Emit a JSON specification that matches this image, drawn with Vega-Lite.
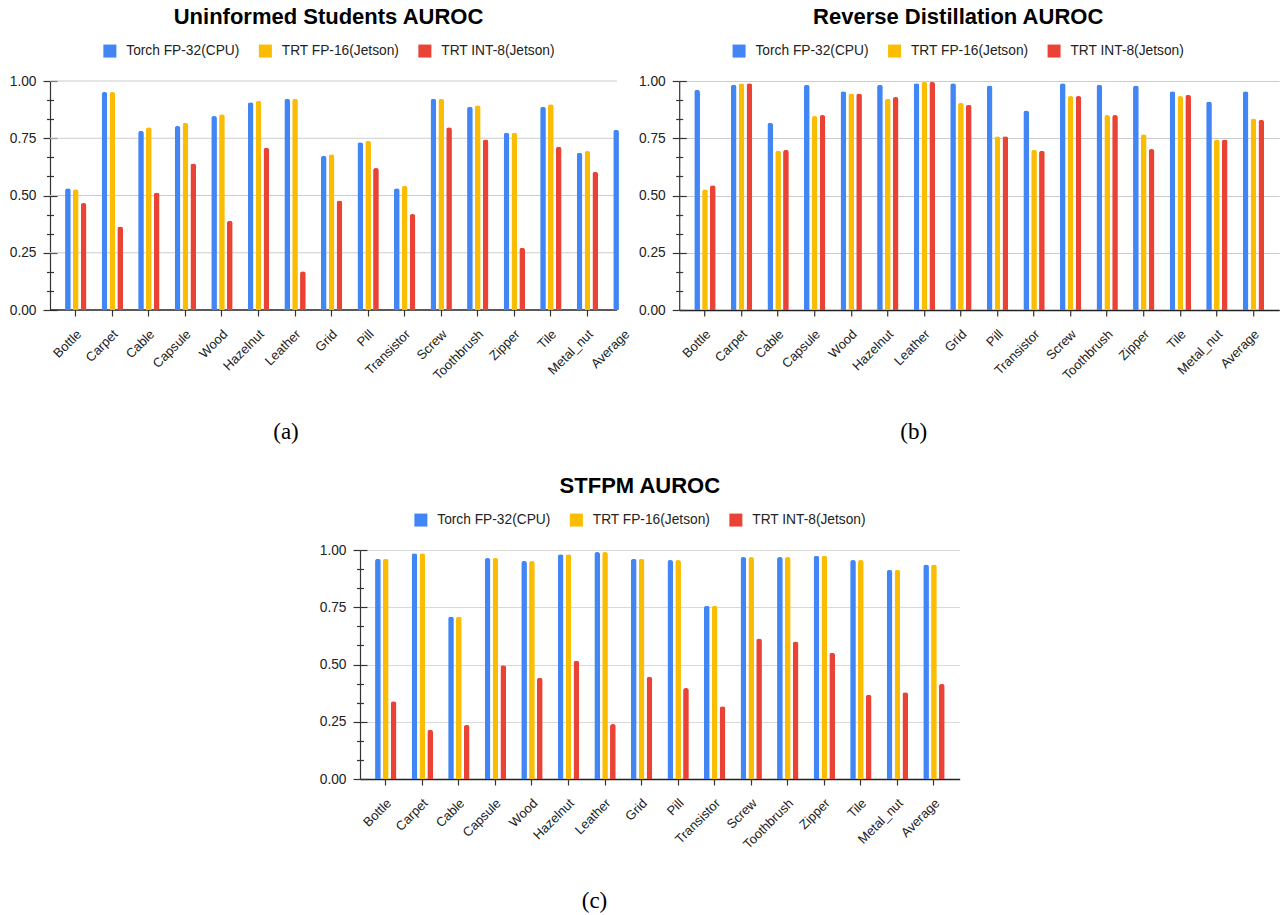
{
  "$schema": "https://vega.github.io/schema/vega-lite/v6.json",
  "background": "white",
  "padding": {"left": 9, "top": 6, "right": 0, "bottom": 0},
  "datasets": {
    "us": [
      {"c": "Bottle", "s": "Torch FP-32(CPU)", "v": 0.532}, {"c": "Bottle", "s": "TRT FP-16(Jetson)", "v": 0.527}, {"c": "Bottle", "s": "TRT INT-8(Jetson)", "v": 0.467},
      {"c": "Carpet", "s": "Torch FP-32(CPU)", "v": 0.952}, {"c": "Carpet", "s": "TRT FP-16(Jetson)", "v": 0.952}, {"c": "Carpet", "s": "TRT INT-8(Jetson)", "v": 0.365},
      {"c": "Cable", "s": "Torch FP-32(CPU)", "v": 0.782}, {"c": "Cable", "s": "TRT FP-16(Jetson)", "v": 0.798}, {"c": "Cable", "s": "TRT INT-8(Jetson)", "v": 0.513},
      {"c": "Capsule", "s": "Torch FP-32(CPU)", "v": 0.803}, {"c": "Capsule", "s": "TRT FP-16(Jetson)", "v": 0.817}, {"c": "Capsule", "s": "TRT INT-8(Jetson)", "v": 0.640},
      {"c": "Wood", "s": "Torch FP-32(CPU)", "v": 0.847}, {"c": "Wood", "s": "TRT FP-16(Jetson)", "v": 0.855}, {"c": "Wood", "s": "TRT INT-8(Jetson)", "v": 0.390},
      {"c": "Hazelnut", "s": "Torch FP-32(CPU)", "v": 0.907}, {"c": "Hazelnut", "s": "TRT FP-16(Jetson)", "v": 0.913}, {"c": "Hazelnut", "s": "TRT INT-8(Jetson)", "v": 0.709},
      {"c": "Leather", "s": "Torch FP-32(CPU)", "v": 0.923}, {"c": "Leather", "s": "TRT FP-16(Jetson)", "v": 0.923}, {"c": "Leather", "s": "TRT INT-8(Jetson)", "v": 0.169},
      {"c": "Grid", "s": "Torch FP-32(CPU)", "v": 0.674}, {"c": "Grid", "s": "TRT FP-16(Jetson)", "v": 0.680}, {"c": "Grid", "s": "TRT INT-8(Jetson)", "v": 0.478},
      {"c": "Pill", "s": "Torch FP-32(CPU)", "v": 0.733}, {"c": "Pill", "s": "TRT FP-16(Jetson)", "v": 0.739}, {"c": "Pill", "s": "TRT INT-8(Jetson)", "v": 0.620},
      {"c": "Transistor", "s": "Torch FP-32(CPU)", "v": 0.532}, {"c": "Transistor", "s": "TRT FP-16(Jetson)", "v": 0.542}, {"c": "Transistor", "s": "TRT INT-8(Jetson)", "v": 0.419},
      {"c": "Screw", "s": "Torch FP-32(CPU)", "v": 0.923}, {"c": "Screw", "s": "TRT FP-16(Jetson)", "v": 0.923}, {"c": "Screw", "s": "TRT INT-8(Jetson)", "v": 0.798},
      {"c": "Toothbrush", "s": "Torch FP-32(CPU)", "v": 0.888}, {"c": "Toothbrush", "s": "TRT FP-16(Jetson)", "v": 0.894}, {"c": "Toothbrush", "s": "TRT INT-8(Jetson)", "v": 0.744},
      {"c": "Zipper", "s": "Torch FP-32(CPU)", "v": 0.774}, {"c": "Zipper", "s": "TRT FP-16(Jetson)", "v": 0.774}, {"c": "Zipper", "s": "TRT INT-8(Jetson)", "v": 0.272},
      {"c": "Tile", "s": "Torch FP-32(CPU)", "v": 0.888}, {"c": "Tile", "s": "TRT FP-16(Jetson)", "v": 0.898}, {"c": "Tile", "s": "TRT INT-8(Jetson)", "v": 0.713},
      {"c": "Metal_nut", "s": "Torch FP-32(CPU)", "v": 0.687}, {"c": "Metal_nut", "s": "TRT FP-16(Jetson)", "v": 0.694}, {"c": "Metal_nut", "s": "TRT INT-8(Jetson)", "v": 0.603},
      {"c": "Average", "s": "Torch FP-32(CPU)", "v": 0.787}
    ],
    "rd": [
      {"c": "Bottle", "s": "Torch FP-32(CPU)", "v": 0.961}, {"c": "Bottle", "s": "TRT FP-16(Jetson)", "v": 0.527}, {"c": "Bottle", "s": "TRT INT-8(Jetson)", "v": 0.545},
      {"c": "Carpet", "s": "Torch FP-32(CPU)", "v": 0.984}, {"c": "Carpet", "s": "TRT FP-16(Jetson)", "v": 0.990}, {"c": "Carpet", "s": "TRT INT-8(Jetson)", "v": 0.990},
      {"c": "Cable", "s": "Torch FP-32(CPU)", "v": 0.817}, {"c": "Cable", "s": "TRT FP-16(Jetson)", "v": 0.695}, {"c": "Cable", "s": "TRT INT-8(Jetson)", "v": 0.699},
      {"c": "Capsule", "s": "Torch FP-32(CPU)", "v": 0.984}, {"c": "Capsule", "s": "TRT FP-16(Jetson)", "v": 0.847}, {"c": "Capsule", "s": "TRT INT-8(Jetson)", "v": 0.851},
      {"c": "Wood", "s": "Torch FP-32(CPU)", "v": 0.955}, {"c": "Wood", "s": "TRT FP-16(Jetson)", "v": 0.945}, {"c": "Wood", "s": "TRT INT-8(Jetson)", "v": 0.945},
      {"c": "Hazelnut", "s": "Torch FP-32(CPU)", "v": 0.984}, {"c": "Hazelnut", "s": "TRT FP-16(Jetson)", "v": 0.922}, {"c": "Hazelnut", "s": "TRT INT-8(Jetson)", "v": 0.930},
      {"c": "Leather", "s": "Torch FP-32(CPU)", "v": 0.990}, {"c": "Leather", "s": "TRT FP-16(Jetson)", "v": 0.996}, {"c": "Leather", "s": "TRT INT-8(Jetson)", "v": 0.996},
      {"c": "Grid", "s": "Torch FP-32(CPU)", "v": 0.990}, {"c": "Grid", "s": "TRT FP-16(Jetson)", "v": 0.904}, {"c": "Grid", "s": "TRT INT-8(Jetson)", "v": 0.896},
      {"c": "Pill", "s": "Torch FP-32(CPU)", "v": 0.980}, {"c": "Pill", "s": "TRT FP-16(Jetson)", "v": 0.759}, {"c": "Pill", "s": "TRT INT-8(Jetson)", "v": 0.759},
      {"c": "Transistor", "s": "Torch FP-32(CPU)", "v": 0.871}, {"c": "Transistor", "s": "TRT FP-16(Jetson)", "v": 0.700}, {"c": "Transistor", "s": "TRT INT-8(Jetson)", "v": 0.695},
      {"c": "Screw", "s": "Torch FP-32(CPU)", "v": 0.990}, {"c": "Screw", "s": "TRT FP-16(Jetson)", "v": 0.934}, {"c": "Screw", "s": "TRT INT-8(Jetson)", "v": 0.934},
      {"c": "Toothbrush", "s": "Torch FP-32(CPU)", "v": 0.984}, {"c": "Toothbrush", "s": "TRT FP-16(Jetson)", "v": 0.851}, {"c": "Toothbrush", "s": "TRT INT-8(Jetson)", "v": 0.851},
      {"c": "Zipper", "s": "Torch FP-32(CPU)", "v": 0.980}, {"c": "Zipper", "s": "TRT FP-16(Jetson)", "v": 0.768}, {"c": "Zipper", "s": "TRT INT-8(Jetson)", "v": 0.703},
      {"c": "Tile", "s": "Torch FP-32(CPU)", "v": 0.955}, {"c": "Tile", "s": "TRT FP-16(Jetson)", "v": 0.934}, {"c": "Tile", "s": "TRT INT-8(Jetson)", "v": 0.939},
      {"c": "Metal_nut", "s": "Torch FP-32(CPU)", "v": 0.910}, {"c": "Metal_nut", "s": "TRT FP-16(Jetson)", "v": 0.745}, {"c": "Metal_nut", "s": "TRT INT-8(Jetson)", "v": 0.745},
      {"c": "Average", "s": "Torch FP-32(CPU)", "v": 0.955}, {"c": "Average", "s": "TRT FP-16(Jetson)", "v": 0.836}, {"c": "Average", "s": "TRT INT-8(Jetson)", "v": 0.830}
    ],
    "st": [
      {"c": "Bottle", "s": "Torch FP-32(CPU)", "v": 0.962}, {"c": "Bottle", "s": "TRT FP-16(Jetson)", "v": 0.962}, {"c": "Bottle", "s": "TRT INT-8(Jetson)", "v": 0.340},
      {"c": "Carpet", "s": "Torch FP-32(CPU)", "v": 0.986}, {"c": "Carpet", "s": "TRT FP-16(Jetson)", "v": 0.986}, {"c": "Carpet", "s": "TRT INT-8(Jetson)", "v": 0.215},
      {"c": "Cable", "s": "Torch FP-32(CPU)", "v": 0.710}, {"c": "Cable", "s": "TRT FP-16(Jetson)", "v": 0.710}, {"c": "Cable", "s": "TRT INT-8(Jetson)", "v": 0.236},
      {"c": "Capsule", "s": "Torch FP-32(CPU)", "v": 0.965}, {"c": "Capsule", "s": "TRT FP-16(Jetson)", "v": 0.965}, {"c": "Capsule", "s": "TRT INT-8(Jetson)", "v": 0.497},
      {"c": "Wood", "s": "Torch FP-32(CPU)", "v": 0.952}, {"c": "Wood", "s": "TRT FP-16(Jetson)", "v": 0.952}, {"c": "Wood", "s": "TRT INT-8(Jetson)", "v": 0.442},
      {"c": "Hazelnut", "s": "Torch FP-32(CPU)", "v": 0.981}, {"c": "Hazelnut", "s": "TRT FP-16(Jetson)", "v": 0.981}, {"c": "Hazelnut", "s": "TRT INT-8(Jetson)", "v": 0.516},
      {"c": "Leather", "s": "Torch FP-32(CPU)", "v": 0.991}, {"c": "Leather", "s": "TRT FP-16(Jetson)", "v": 0.991}, {"c": "Leather", "s": "TRT INT-8(Jetson)", "v": 0.240},
      {"c": "Grid", "s": "Torch FP-32(CPU)", "v": 0.961}, {"c": "Grid", "s": "TRT FP-16(Jetson)", "v": 0.961}, {"c": "Grid", "s": "TRT INT-8(Jetson)", "v": 0.447},
      {"c": "Pill", "s": "Torch FP-32(CPU)", "v": 0.956}, {"c": "Pill", "s": "TRT FP-16(Jetson)", "v": 0.956}, {"c": "Pill", "s": "TRT INT-8(Jetson)", "v": 0.397},
      {"c": "Transistor", "s": "Torch FP-32(CPU)", "v": 0.757}, {"c": "Transistor", "s": "TRT FP-16(Jetson)", "v": 0.757}, {"c": "Transistor", "s": "TRT INT-8(Jetson)", "v": 0.318},
      {"c": "Screw", "s": "Torch FP-32(CPU)", "v": 0.969}, {"c": "Screw", "s": "TRT FP-16(Jetson)", "v": 0.969}, {"c": "Screw", "s": "TRT INT-8(Jetson)", "v": 0.614},
      {"c": "Toothbrush", "s": "Torch FP-32(CPU)", "v": 0.969}, {"c": "Toothbrush", "s": "TRT FP-16(Jetson)", "v": 0.969}, {"c": "Toothbrush", "s": "TRT INT-8(Jetson)", "v": 0.600},
      {"c": "Zipper", "s": "Torch FP-32(CPU)", "v": 0.975}, {"c": "Zipper", "s": "TRT FP-16(Jetson)", "v": 0.975}, {"c": "Zipper", "s": "TRT INT-8(Jetson)", "v": 0.551},
      {"c": "Tile", "s": "Torch FP-32(CPU)", "v": 0.956}, {"c": "Tile", "s": "TRT FP-16(Jetson)", "v": 0.956}, {"c": "Tile", "s": "TRT INT-8(Jetson)", "v": 0.368},
      {"c": "Metal_nut", "s": "Torch FP-32(CPU)", "v": 0.913}, {"c": "Metal_nut", "s": "TRT FP-16(Jetson)", "v": 0.913}, {"c": "Metal_nut", "s": "TRT INT-8(Jetson)", "v": 0.379},
      {"c": "Average", "s": "Torch FP-32(CPU)", "v": 0.937}, {"c": "Average", "s": "TRT FP-16(Jetson)", "v": 0.937}, {"c": "Average", "s": "TRT INT-8(Jetson)", "v": 0.415}
    ],
    "gridLevels": [{"g": 0}, {"g": 0.25}, {"g": 0.5}, {"g": 0.75}, {"g": 1}]
  },
  "config": {
    "view": {"stroke": null},
    "font": "Liberation Sans",
    "title": {"font": "Liberation Sans", "fontSize": 22, "fontWeight": "bold", "color": "#000000", "anchor": "middle", "frame": "group"},
    "legend": {"orient": "none", "direction": "horizontal", "symbolType": "square", "symbolSize": 169, "symbolStrokeWidth": 0, "symbolOpacity": 1, "labelFont": "Liberation Sans", "labelFontSize": 13.75, "labelColor": "#222222", "labelOffset": 9.5, "columnPadding": 18.5},
    "axisX": {
      "domain": false, "offset": -6, "tickSize": 12, "tickColor": "#333333", "tickWidth": 1.2,
      "labelAngle": -45, "labelAlign": "right", "labelBaseline": "middle", "labelFont": "Liberation Sans", "labelFontSize": 13, "labelColor": "#222222", "labelPadding": 15.7, "labelOffset": 3.5,
      "zindex": 1,
      "titleFont": "Liberation Serif", "titleFontSize": 23, "titleFontWeight": "normal", "titleColor": "#000000", "titleY": 127.5, "titleAlign": "center", "titleBaseline": "middle", "titleAngle": 0
    }
  },
  "spacing": 469,
  "bounds": "flush",
  "resolve": {"scale": {"color": "independent"}, "legend": {"color": "independent"}},
  "vconcat": [
    {
      "spacing": 62.2,
      "bounds": "flush",
      "resolve": {"scale": {"color": "independent"}, "legend": {"color": "independent"}},
      "hconcat": [
        {
          "width": 567, "height": 229,
          "title": {"text": "Uninformed Students AUROC", "dx": -5, "offset": 14.7},
          "resolve": {"axis": {"y": "independent"}},
          "layer": [
            {
              "data": {"name": "gridLevels"},
              "mark": {"type": "rule"},
              "encoding": {
                "y": {"field": "g", "type": "quantitative", "scale": {"domain": [0, 1], "nice": false},
                  "axis": {"orient": "left", "title": null, "values": [0, 0.083333, 0.166667, 0.25, 0.333333, 0.416667, 0.5, 0.583333, 0.666667, 0.75, 0.833333, 0.916667, 1],
                    "labels": false, "domain": false, "grid": false, "ticks": true, "tickColor": "#333333", "tickWidth": 1.2,
                    "tickSize": {"condition": {"test": "abs(datum.value * 4 - round(datum.value * 4)) < 0.001", "value": -7}, "value": -3.5}}},
                "color": {"condition": {"test": "datum.g == 0", "value": "#222222"}, "value": "#cccccc"},
                "strokeWidth": {"condition": {"test": "datum.g == 0", "value": 1.5}, "value": 1}
              }
            },
            {
              "data": {"name": "us"},
              "mark": {"type": "bar", "cornerRadiusEnd": 2.5},
              "encoding": {
                "x": {"field": "c", "type": "nominal", "title": "(a)",
                  "sort": ["Bottle", "Carpet", "Cable", "Capsule", "Wood", "Hazelnut", "Leather", "Grid", "Pill", "Transistor", "Screw", "Toothbrush", "Zipper", "Tile", "Metal_nut", "Average"],
                  "scale": {"domain": ["Bottle", "Carpet", "Cable", "Capsule", "Wood", "Hazelnut", "Leather", "Grid", "Pill", "Transistor", "Screw", "Toothbrush", "Zipper", "Tile", "Metal_nut", "Average"], "range": [0, 599.7], "paddingInner": 0.4145, "paddingOuter": 0.412},
                  "axis": {"titleX": 235.5, "tickOpacity": {"condition": {"test": "datum.value == 'Average'", "value": 0}, "value": 1}}},
                "xOffset": {"field": "s", "type": "nominal", "sort": ["Torch FP-32(CPU)", "TRT FP-16(Jetson)", "TRT INT-8(Jetson)"], "scale": {"domain": ["Torch FP-32(CPU)", "TRT FP-16(Jetson)", "TRT INT-8(Jetson)"], "range": [0, 21.4], "paddingInner": 0.274, "paddingOuter": 0}},
                "y": {"field": "v", "type": "quantitative", "scale": {"domain": [0, 1], "nice": false},
                  "axis": {"orient": "left", "title": null, "values": [0, 0.083333, 0.166667, 0.25, 0.333333, 0.416667, 0.5, 0.583333, 0.666667, 0.75, 0.833333, 0.916667, 1],
                    "labelExpr": "abs(datum.value * 4 - round(datum.value * 4)) < 0.001 ? format(datum.value, '.2f') : ''",
                    "labelFont": "Liberation Sans", "labelFontSize": 13.75, "labelColor": "#222222", "labelPadding": 7,
                    "domain": true, "domainColor": "#333333", "domainWidth": 1.2,
                    "ticks": true, "tickColor": "#333333", "tickWidth": 1.2,
                    "tickSize": {"condition": {"test": "abs(datum.value * 4 - round(datum.value * 4)) < 0.001", "value": 7}, "value": 3.5},
                    "grid": false}},
                "color": {"field": "s", "type": "nominal", "title": null, "sort": ["Torch FP-32(CPU)", "TRT FP-16(Jetson)", "TRT INT-8(Jetson)"],
                  "scale": {"domain": ["Torch FP-32(CPU)", "TRT FP-16(Jetson)", "TRT INT-8(Jetson)"], "range": ["#4285F4", "#FBBC04", "#EA4335"]},
                  "legend": {"legendX": 53, "legendY": -37}}
              }
            }
          ]
        },
        {
          "width": 600, "height": 229,
          "title": {"text": "Reverse Distillation AUROC", "dx": -21, "offset": 14.7},
          "data": {"name": "rd"},
          "resolve": {"axis": {"y": "independent"}},
          "layer": [
            {
              "mark": {"type": "bar", "cornerRadiusEnd": 2.5},
              "encoding": {
                "x": {"field": "c", "type": "nominal", "title": "(b)",
                  "sort": ["Bottle", "Carpet", "Cable", "Capsule", "Wood", "Hazelnut", "Leather", "Grid", "Pill", "Transistor", "Screw", "Toothbrush", "Zipper", "Tile", "Metal_nut", "Average"],
                  "scale": {"paddingInner": 0.4145, "paddingOuter": 0.412},
                  "axis": {"titleX": 234}},
                "xOffset": {"field": "s", "type": "nominal", "sort": ["Torch FP-32(CPU)", "TRT FP-16(Jetson)", "TRT INT-8(Jetson)"], "scale": {"paddingInner": 0.274, "paddingOuter": 0}},
                "y": {"field": "v", "type": "quantitative", "scale": {"domain": [0, 1], "nice": false},
                  "axis": {"title": null, "values": [0, 0.083333, 0.166667, 0.25, 0.333333, 0.416667, 0.5, 0.583333, 0.666667, 0.75, 0.833333, 0.916667, 1],
                    "labelExpr": "abs(datum.value * 4 - round(datum.value * 4)) < 0.001 ? format(datum.value, '.2f') : ''",
                    "labelFont": "Liberation Sans", "labelFontSize": 13.75, "labelColor": "#222222", "labelPadding": 7,
                    "domain": true, "domainColor": "#333333", "domainWidth": 1.2,
                    "ticks": true, "tickColor": "#333333", "tickWidth": 1.2,
                    "tickSize": {"condition": {"test": "abs(datum.value * 4 - round(datum.value * 4)) < 0.001", "value": 7}, "value": 3.5},
                    "grid": true,
                    "gridColor": {"condition": {"test": "datum.value == 0", "value": "#222222"}, "value": "#cccccc"},
                    "gridWidth": {"condition": {"test": "datum.value == 0", "value": 1.5}, "value": 1},
                    "gridOpacity": {"condition": {"test": "abs(datum.value * 4 - round(datum.value * 4)) < 0.001", "value": 1}, "value": 0}}},
                "color": {"field": "s", "type": "nominal", "title": null, "sort": ["Torch FP-32(CPU)", "TRT FP-16(Jetson)", "TRT INT-8(Jetson)"],
                  "scale": {"domain": ["Torch FP-32(CPU)", "TRT FP-16(Jetson)", "TRT INT-8(Jetson)"], "range": ["#4285F4", "#FBBC04", "#EA4335"]},
                  "legend": {"legendX": 53, "legendY": -37}}
              }
            },
            {
              "mark": {"type": "rule", "opacity": 0},
              "encoding": {
                "y": {"field": "v", "type": "quantitative",
                  "axis": {"orient": "left", "title": null, "values": [0, 0.083333, 0.166667, 0.25, 0.333333, 0.416667, 0.5, 0.583333, 0.666667, 0.75, 0.833333, 0.916667, 1],
                    "labels": false, "domain": false, "grid": false, "ticks": true, "tickColor": "#333333", "tickWidth": 1.2,
                    "tickSize": {"condition": {"test": "abs(datum.value * 4 - round(datum.value * 4)) < 0.001", "value": -7}, "value": -3.5}}}
              }
            }
          ]
        }
      ]
    },
    {
      "spacing": 20,
      "bounds": "flush",
      "resolve": {"scale": {"color": "independent"}, "legend": {"color": "independent"}},
      "hconcat": [
        {"width": 289.5, "height": 229, "data": {"values": []}, "mark": "point"},
        {
          "width": 599.7, "height": 229,
          "title": {"text": "STFPM AUROC", "dx": -20, "offset": 14.7},
          "data": {"name": "st"},
          "resolve": {"axis": {"y": "independent"}},
          "layer": [
            {
              "mark": {"type": "bar", "cornerRadiusEnd": 2.5},
              "encoding": {
                "x": {"field": "c", "type": "nominal", "title": "(c)",
                  "sort": ["Bottle", "Carpet", "Cable", "Capsule", "Wood", "Hazelnut", "Leather", "Grid", "Pill", "Transistor", "Screw", "Toothbrush", "Zipper", "Tile", "Metal_nut", "Average"],
                  "scale": {"paddingInner": 0.4145, "paddingOuter": 0.412},
                  "axis": {"titleX": 234}},
                "xOffset": {"field": "s", "type": "nominal", "sort": ["Torch FP-32(CPU)", "TRT FP-16(Jetson)", "TRT INT-8(Jetson)"], "scale": {"paddingInner": 0.274, "paddingOuter": 0}},
                "y": {"field": "v", "type": "quantitative", "scale": {"domain": [0, 1], "nice": false},
                  "axis": {"title": null, "values": [0, 0.083333, 0.166667, 0.25, 0.333333, 0.416667, 0.5, 0.583333, 0.666667, 0.75, 0.833333, 0.916667, 1],
                    "labelExpr": "abs(datum.value * 4 - round(datum.value * 4)) < 0.001 ? format(datum.value, '.2f') : ''",
                    "labelFont": "Liberation Sans", "labelFontSize": 13.75, "labelColor": "#222222", "labelPadding": 7,
                    "domain": true, "domainColor": "#333333", "domainWidth": 1.2,
                    "ticks": true, "tickColor": "#333333", "tickWidth": 1.2,
                    "tickSize": {"condition": {"test": "abs(datum.value * 4 - round(datum.value * 4)) < 0.001", "value": 7}, "value": 3.5},
                    "grid": true,
                    "gridColor": {"condition": {"test": "datum.value == 0", "value": "#222222"}, "value": "#d9d9d9"},
                    "gridWidth": {"condition": {"test": "datum.value == 0", "value": 1.5}, "value": 1},
                    "gridOpacity": {"condition": {"test": "abs(datum.value * 4 - round(datum.value * 4)) < 0.001", "value": 1}, "value": 0}}},
                "color": {"field": "s", "type": "nominal", "title": null, "sort": ["Torch FP-32(CPU)", "TRT FP-16(Jetson)", "TRT INT-8(Jetson)"],
                  "scale": {"domain": ["Torch FP-32(CPU)", "TRT FP-16(Jetson)", "TRT INT-8(Jetson)"], "range": ["#4285F4", "#FBBC04", "#EA4335"]},
                  "legend": {"legendX": 54, "legendY": -37}}
              }
            },
            {
              "mark": {"type": "rule", "opacity": 0},
              "encoding": {
                "y": {"field": "v", "type": "quantitative",
                  "axis": {"orient": "left", "title": null, "values": [0, 0.083333, 0.166667, 0.25, 0.333333, 0.416667, 0.5, 0.583333, 0.666667, 0.75, 0.833333, 0.916667, 1],
                    "labels": false, "domain": false, "grid": false, "ticks": true, "tickColor": "#333333", "tickWidth": 1.2,
                    "tickSize": {"condition": {"test": "abs(datum.value * 4 - round(datum.value * 4)) < 0.001", "value": -7}, "value": -3.5}}}
              }
            }
          ]
        }
      ]
    }
  ]
}
